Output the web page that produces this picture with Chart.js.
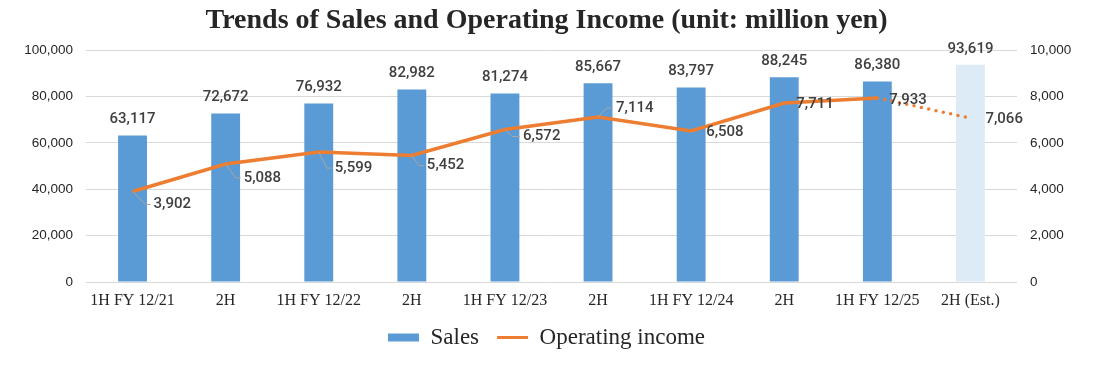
<!DOCTYPE html>
<html>
<head>
<meta charset="utf-8">
<script src="https://cdn.jsdelivr.net/npm/chart.js@4.4.1/dist/chart.umd.min.js"></script>
<style>
  html, body { margin: 0; padding: 0; background: #ffffff; }
  #wrap { width: 1093px; height: 369px; }
</style>
</head>
<body>
<div id="wrap"><canvas id="c" width="1093" height="369"></canvas></div>
<script>
// ---- Data ----
const categories = ['1H FY 12/21', '2H', '1H FY 12/22', '2H', '1H FY 12/23', '2H', '1H FY 12/24', '2H', '1H FY 12/25', '2H (Est.)'];
const salesValues = [63117, 72672, 76932, 82982, 81274, 85667, 83797, 88245, 86380, 93619];
const incomeValues = [3902, 5088, 5599, 5452, 6572, 7114, 6508, 7711, 7933, 7066];
const salesTicks = [0, 20000, 40000, 60000, 80000, 100000];
const incomeTicks = [0, 2000, 4000, 6000, 8000, 10000];
const estimateIndex = 9;

// ---- Label placement (style only) ----
const incomeLabelOffsets = [
  {dx: 21, dy: 13, leader: true},
  {dx: 18, dy: 14, leader: true},
  {dx: 16, dy: 16, leader: true},
  {dx: 15, dy: 10, leader: true},
  {dx: 18, dy: 7, leader: true},
  {dx: 18, dy: -9, leader: true},
  {dx: 15, dy: 1, leader: false},
  {dx: 12, dy: 1, leader: false},
  {dx: 12, dy: 2, leader: false},
  {dx: 15, dy: 1, leader: false}
];

const fmt = v => v.toLocaleString('en-US');
const BLUE = '#5B9BD5', LIGHT = '#DDEBF7', ORANGE = '#ED7D31';

const labelPlugin = {
  id: 'valueLabels',
  afterDatasetsDraw(chart) {
    const ctx = chart.ctx;
    ctx.save();
    ctx.font = '500 15px Roboto, "Liberation Sans", Arial, sans-serif';
    ctx.fillStyle = '#404040';
    const barMeta = chart.getDatasetMeta(0);
    ctx.textAlign = 'center';
    ctx.textBaseline = 'middle';
    barMeta.data.forEach((bar, i) => {
      ctx.fillText(fmt(salesValues[i]), bar.x, bar.y - 16);
    });
    const lineMeta = chart.getDatasetMeta(1);
    lineMeta.data.forEach((pt, i) => {
      const o = incomeLabelOffsets[i];
      const lx = pt.x + o.dx, ly = pt.y + o.dy;
      if (o.leader) {
        ctx.strokeStyle = '#a6a6a6';
        ctx.lineWidth = 1;
        ctx.beginPath();
        ctx.moveTo(pt.x, pt.y);
        const ddx = Math.min(Math.abs(o.dy), o.dx - 8);
        ctx.lineTo(pt.x + ddx, ly);
        ctx.lineTo(lx - 3, ly);
        ctx.stroke();
      }
      ctx.textAlign = 'left';
      ctx.fillStyle = '#404040';
      ctx.fillText(fmt(incomeValues[i]), lx, ly);
    });
    ctx.restore();
  }
};

new Chart(document.getElementById('c'), {
  type: 'bar',
  data: {
    labels: categories,
    datasets: [
      {
        label: 'Sales',
        data: salesValues,
        backgroundColor: salesValues.map((v, i) => i === estimateIndex ? LIGHT : BLUE),
        borderWidth: 0,
        yAxisID: 'y',
        order: 1,
        categoryPercentage: 1,
        barPercentage: 0.31
      },
      {
        type: 'line',
        label: 'Operating income',
        data: incomeValues,
        borderColor: ORANGE,
        backgroundColor: ORANGE,
        borderWidth: 3.5,
        pointRadius: 0,
        tension: 0,
        yAxisID: 'y1',
        order: 0,
        segment: {
          borderDash: c => c.p1DataIndex === estimateIndex ? [0, 7.5] : undefined,
          borderCapStyle: c => c.p1DataIndex === estimateIndex ? 'round' : 'butt'
        }
      }
    ]
  },
  options: {
    responsive: false,
    animation: false,
    devicePixelRatio: 1,
    layout: { padding: { left: 0, right: 0, top: 0, bottom: 10 } },
    plugins: {
      tooltip: { enabled: false },
      title: {
        display: true,
        text: 'Trends of Sales and Operating Income (unit: million yen)',
        color: '#262626',
        font: { family: '"Liberation Serif", "Times New Roman", serif', size: 28, weight: 'bold', lineHeight: 1.1 },
        padding: { top: 5, bottom: 14.2 }
      },
      legend: {
        position: 'bottom',
        labels: {
          usePointStyle: true,
          pointStyleWidth: 31,
          boxHeight: 8,
          padding: 18,
          color: '#262626',
          font: { family: '"Liberation Serif", "Times New Roman", serif', size: 23 },
          generateLabels(chart) {
            return [
              { text: 'Sales', fillStyle: BLUE, strokeStyle: BLUE, lineWidth: 0, pointStyle: 'rect', datasetIndex: 0, hidden: false, fontColor: '#262626' },
              { text: 'Operating income', fillStyle: ORANGE, strokeStyle: ORANGE, lineWidth: 3, pointStyle: 'line', datasetIndex: 1, hidden: false, fontColor: '#262626' }
            ];
          }
        }
      }
    },
    scales: {
      x: {
        grid: { display: false, drawTicks: false },
        border: { display: false },
        ticks: {
          color: '#262626',
          padding: 9,
          maxRotation: 0,
          autoSkip: false,
          font: { family: '"Liberation Serif", "Times New Roman", serif', size: 16 }
        },
        afterFit(s) { s.height = 26; }
      },
      y: {
        position: 'left',
        min: 0, max: 100000,
        afterBuildTicks(s) { s.ticks = salesTicks.map(v => ({ value: v })); },
        grid: { color: '#d9d9d9', lineWidth: 1, drawTicks: false },
        border: { display: false },
        ticks: {
          color: '#262626',
          padding: 13,
          callback: v => fmt(v),
          font: { family: '"Liberation Sans", Arial, sans-serif', size: 13.5 }
        },
        afterFit(s) { s.width = 86; }
      },
      y1: {
        position: 'right',
        min: 0, max: 10000,
        afterBuildTicks(s) { s.ticks = incomeTicks.map(v => ({ value: v })); },
        grid: { display: false, drawTicks: false },
        border: { display: false },
        ticks: {
          color: '#262626',
          padding: 13,
          callback: v => fmt(v),
          font: { family: '"Liberation Sans", Arial, sans-serif', size: 13.5 }
        },
        afterFit(s) { s.width = 76; }
      }
    }
  },
  plugins: [labelPlugin]
});
</script>
</body>
</html>
